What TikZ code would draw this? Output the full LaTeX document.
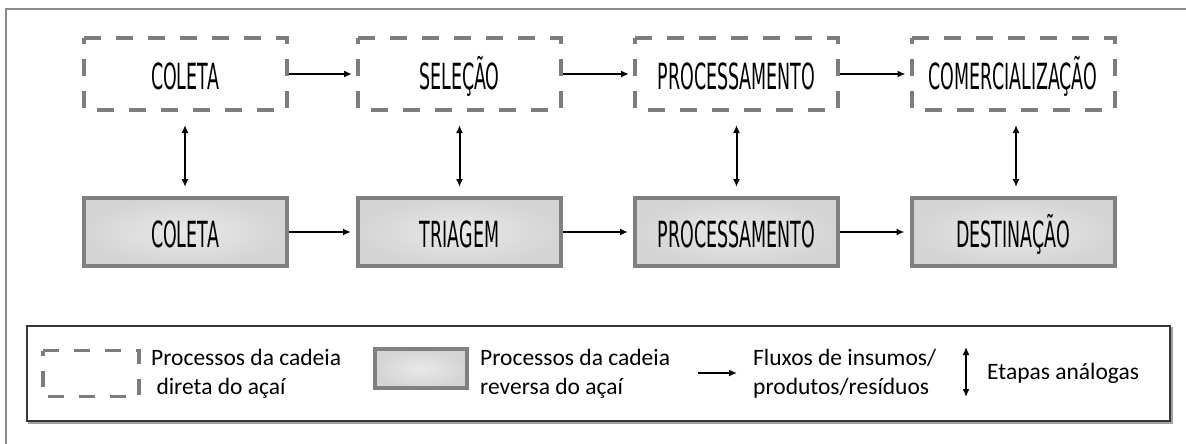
\documentclass[tikz,border=0pt]{standalone}
\usepackage{fontspec}
\setmainfont{Carlito}
\newfontfamily\stagefont[FakeStretch=0.485]{DejaVu Sans}
\usetikzlibrary{arrows.meta}

\definecolor{dashgray}{RGB}{125,125,125}
\definecolor{boxgray}{RGB}{128,128,128}
\definecolor{boxinner}{RGB}{233,233,233}
\definecolor{boxouter}{RGB}{212,212,212}
\definecolor{framegray}{RGB}{140,140,140}
\definecolor{legendline}{RGB}{55,55,55}
\definecolor{legendshadow}{RGB}{160,160,160}

\begin{document}
\begin{tikzpicture}[x=1pt,y=-1pt,
  stagedash/.style={line width=4pt, outer sep=0pt,
    minimum width=203pt, minimum height=72pt, inner sep=0pt,
    text height=30pt, text depth=0pt,
    font=\stagefont\fontsize{36}{40}\selectfont},
  dashline/.style={draw=dashgray, line width=4pt, dash pattern=on 17pt off 15pt, line join=miter},
  stagesolid/.style={draw=boxgray, line width=4pt,
    inner color=boxinner, outer color=boxouter,
    minimum width=203pt, minimum height=68pt, inner sep=0pt,
    text height=30pt, text depth=0pt,
    font=\stagefont\fontsize{36}{40}\selectfont},
  flow/.style={-{Latex[length=8pt,width=7pt]}, line width=2pt},
  pair/.style={{Latex[length=8pt,width=7pt]}-{Latex[length=8pt,width=7pt]}, line width=2pt},
  legtext/.style={font=\fontsize{23.5}{29}\selectfont, align=left, anchor=west, inner sep=0pt}]

\useasboundingbox (0,0) rectangle (1186,444);

% page frame
\draw[framegray, line width=2pt] (6,444) -- (6,9) -- (1186,9);

% direct chain
\node[stagedash] (d1) at (185,74) {COLETA};
\node[stagedash] (d2) at (459.5,74) {SELEÇÃO};
\node[stagedash] (d3) at (736.5,74) {PROCESSAMENTO};
\node[stagedash] (d4) at (1013,74) {COMERCIALIZAÇÃO};
% dashed outlines, drawn clockwise from the top left corner
\foreach \n in {d1,d2,d3,d4}
  \draw[dashline] (\n.north west) -- (\n.north east) -- (\n.south east) -- (\n.south west) -- cycle;

% reverse chain
\node[stagesolid] (r1) at (185,232) {COLETA};
\node[stagesolid] (r2) at (459.5,232) {TRIAGEM};
\node[stagesolid] (r3) at (736.5,232) {PROCESSAMENTO};
\node[stagesolid] (r4) at (1013,232) {DESTINAÇÃO};

% flows
\draw[flow, shorten <=2pt, shorten >=6pt] (d1) -- (d2);
\draw[flow, shorten <=2pt, shorten >=6pt] (d2) -- (d3);
\draw[flow, shorten <=2pt, shorten >=6pt] (d3) -- (d4);
\draw[flow, shorten >=5pt] (r1) -- (r2);
\draw[flow, shorten >=5pt] (r2) -- (r3);
\draw[flow, shorten >=5pt] (r3) -- (r4);

% analogous stages
\draw[pair, shorten <=15pt, shorten >=9pt] (d1.south) -- (r1.north);
\draw[pair, shorten <=15pt, shorten >=9pt] (d2.south) -- (r2.north);
\draw[pair, shorten <=15pt, shorten >=9pt] (d3.south) -- (r3.north);
\draw[pair, shorten <=15pt, shorten >=9pt] ([xshift=3pt]d4.south) -- ([xshift=3pt]r4.north);

% legend
\node[draw=legendshadow, line width=2pt, minimum width=1143pt, minimum height=95pt, inner sep=0pt]
  (legshadow) at (600,375) {};
\node[draw=legendline, fill=white, line width=1.4pt, minimum width=1143pt, minimum height=95pt, inner sep=0pt]
  (legend) at (598.5,373.5) {};

\node[line width=3.5pt, outer sep=0pt,
  minimum width=96pt, minimum height=46pt, inner sep=0pt] (keydash) at (91,373.5) {};
\draw[dashline, line width=3.5pt, dash pattern=on 16pt off 15pt]
  (keydash.north west) -- (keydash.north east) -- (keydash.south east) -- (keydash.south west) -- cycle;
\node[legtext] (keydashtext) at (151,374) {Processos da cadeia\\\ direta do açaí};

\node[draw=boxgray, line width=4pt, inner color=boxinner, outer color=boxouter,
  minimum width=92pt, minimum height=39pt, inner sep=0pt] (keysolid) at (421,368.5) {};
\node[legtext] (keysolidtext) at (480,374) {Processos da cadeia\\reversa do açaí};

\coordinate (flowa) at (698,373);
\coordinate (flowb) at (737,373);
\draw[flow] (flowa) -- (flowb);
\node[legtext] (keyflowtext) at (753,374) {Fluxos de insumos/\\produtos/resíduos};

\coordinate (paira) at (966,347);
\coordinate (pairb) at (966,397);
\draw[pair] (paira) -- (pairb);
\node[legtext] (keypairtext) at (987,373) {Etapas análogas};

\end{tikzpicture}
\end{document}
